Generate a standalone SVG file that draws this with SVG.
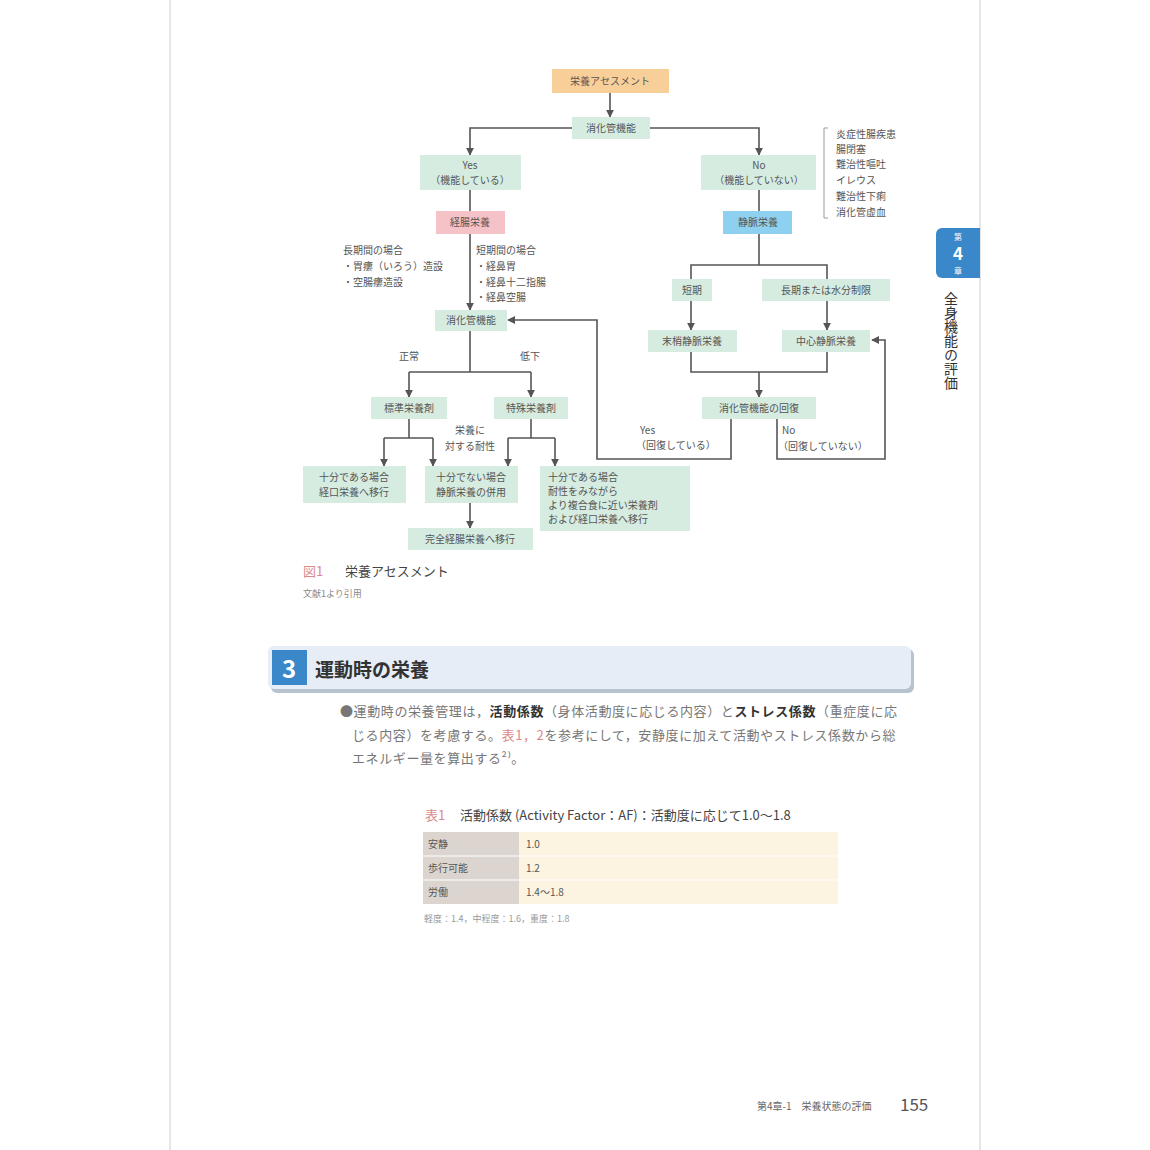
<svg xmlns="http://www.w3.org/2000/svg" width="1150" height="1150" viewBox="0 0 1150 1150">
<defs>
<style>
text{font-family:"Noto Sans CJK JP","Noto Sans",sans-serif;fill:#555;font-size:10px}
.c{text-anchor:middle}
.g{fill:#d6ece1}
.ln{fill:none;stroke:#555;stroke-width:1.6}
.body{font-family:"Noto Sans CJK JP",serif;font-size:13px;letter-spacing:0.6px;fill:#777}
</style>
<marker id="a" viewBox="0 0 10 10" refX="9" refY="5" markerWidth="5" markerHeight="5" orient="auto"><path d="M0,0L10,5L0,10z" fill="#555"/></marker>
</defs>
<rect width="1150" height="1150" fill="#fff"/>
<line x1="170" y1="0" x2="170" y2="1150" stroke="#ccc"/>
<line x1="980" y1="0" x2="980" y2="1150" stroke="#ccc"/>

<g id="connectors" class="ln" marker-end="url(#a)">
<path d="M610,93V117"/>
<path d="M572,128H470V155"/>
<path d="M650,128H759V155"/>
<path d="M470,190V211" marker-end="none"/>
<path d="M470,234V310"/>
<path d="M759,190V211" marker-end="none"/>
<path d="M759,234V265" marker-end="none"/>
<path d="M691,279V265H827V279" marker-end="none"/>
<path d="M691,301V330"/>
<path d="M827,301V330"/>
<path d="M691,352V372H827V352" marker-end="none"/>
<path d="M759,372V397"/>
<path d="M731,419V459H597V320H508"/>
<path d="M777,419V459H885V340H872"/>
<path d="M470,331V372" marker-end="none"/>
<path d="M409,372H531" marker-end="none"/>
<path d="M409,372V397"/>
<path d="M531,372V397"/>
<path d="M409,419V438" marker-end="none"/>
<path d="M384,438H433" marker-end="none"/>
<path d="M384,438V466"/>
<path d="M433,438V466"/>
<path d="M531,419V438" marker-end="none"/>
<path d="M508,438H555" marker-end="none"/>
<path d="M508,438V466"/>
<path d="M555,438V466"/>
<path d="M470,503V528"/>
<path d="M828,128H824V218H828" marker-end="none" stroke="#999" stroke-width="1"/>
</g>

<g id="n1"><rect x="552" y="69" width="117" height="24" fill="#f8cf98"/><text x="610" y="85" class="c">栄養アセスメント</text></g>
<g id="n2"><rect x="572" y="117" width="78" height="22" class="g"/><text x="611" y="132" class="c">消化管機能</text></g>
<g id="n3"><rect x="420" y="155" width="101" height="35" class="g"/><text x="470" y="169" class="c">Yes</text><text x="470" y="184" class="c">（機能している）</text></g>
<g id="n4"><rect x="701" y="155" width="115" height="35" class="g"/><text x="759" y="169" class="c">No</text><text x="759" y="184" class="c">（機能していない）</text></g>
<g id="n5"><rect x="436" y="211" width="69" height="23" fill="#f5c2c7"/><text x="470" y="226" class="c">経腸栄養</text></g>
<g id="n6"><rect x="723" y="211" width="69" height="23" fill="#8ed0ef"/><text x="758" y="226" class="c">静脈栄養</text></g>
<g id="list"><text x="836" y="138">炎症性腸疾患</text><text x="836" y="153">腸閉塞</text><text x="836" y="168">難治性嘔吐</text><text x="836" y="184">イレウス</text><text x="836" y="200">難治性下痢</text><text x="836" y="216">消化管虚血</text></g>
<g id="long"><text x="343" y="254">長期間の場合</text><text x="343" y="270">・胃瘻（いろう）造設</text><text x="343" y="286">・空腸瘻造設</text></g>
<g id="short"><text x="476" y="254">短期間の場合</text><text x="476" y="270">・経鼻胃</text><text x="476" y="286">・経鼻十二指腸</text><text x="476" y="301">・経鼻空腸</text></g>
<g id="n7"><rect x="435" y="310" width="72" height="21" class="g"/><text x="471" y="324" class="c">消化管機能</text></g>
<text x="409" y="360" class="c">正常</text><text x="530" y="360" class="c">低下</text>
<g id="n8"><rect x="371" y="397" width="76" height="22" class="g"/><text x="409" y="412" class="c">標準栄養剤</text></g>
<g id="n9"><rect x="494" y="397" width="74" height="22" class="g"/><text x="531" y="412" class="c">特殊栄養剤</text></g>
<text x="470" y="434" class="c">栄養に</text><text x="470" y="450" class="c">対する耐性</text>
<g id="n10"><rect x="303" y="466" width="103" height="37" class="g"/><text x="354" y="481" class="c">十分である場合</text><text x="354" y="496" class="c">経口栄養へ移行</text></g>
<g id="n11"><rect x="425" y="466" width="93" height="37" class="g"/><text x="471" y="481" class="c">十分でない場合</text><text x="471" y="496" class="c">静脈栄養の併用</text></g>
<g id="n12"><rect x="540" y="466" width="150" height="65" class="g"/><text x="548" y="481">十分である場合</text><text x="548" y="495">耐性をみながら</text><text x="548" y="509">より複合食に近い栄養剤</text><text x="548" y="523">および経口栄養へ移行</text></g>
<g id="n13"><rect x="408" y="528" width="125" height="22" class="g"/><text x="470" y="543" class="c">完全経腸栄養へ移行</text></g>
<g id="n14"><rect x="672" y="279" width="40" height="22" class="g"/><text x="692" y="294" class="c">短期</text></g>
<g id="n15"><rect x="762" y="279" width="128" height="22" class="g"/><text x="826" y="294" class="c">長期または水分制限</text></g>
<g id="n16"><rect x="648" y="330" width="89" height="22" class="g"/><text x="692" y="345" class="c">末梢静脈栄養</text></g>
<g id="n17"><rect x="782" y="330" width="88" height="22" class="g"/><text x="826" y="345" class="c">中心静脈栄養</text></g>
<g id="n18"><rect x="702" y="397" width="114" height="22" class="g"/><text x="759" y="412" class="c">消化管機能の回復</text></g>
<text x="640" y="434">Yes</text><text x="636" y="449">（回復している）</text>
<text x="782" y="434">No</text><text x="778" y="450">（回復していない）</text>

<text x="303" y="576" style="font-size:13px;fill:#d98a8a">図1</text><text x="345" y="576" style="font-size:13px;fill:#444">栄養アセスメント</text>
<text x="303" y="597" style="font-size:9px;fill:#888">文献1より引用</text>

<g id="section">
<rect x="271" y="649" width="643" height="44" rx="6" fill="#b8c3d0"/>
<rect x="268" y="646" width="643" height="43" rx="6" fill="#e6edf7"/>
<rect x="272" y="650" width="35" height="35" fill="#3a88c9"/>
<text x="289" y="678" class="c" style="font-size:24px;font-weight:bold;fill:#fff">3</text>
<text x="315" y="677" style="font-size:19px;font-weight:bold;fill:#333">運動時の栄養</text>
</g>
<text x="340" y="716" class="body">●運動時の栄養管理は，<tspan style="font-weight:bold;fill:#333">活動係数</tspan>（身体活動度に応じる内容）と<tspan style="font-weight:bold;fill:#333">ストレス係数</tspan>（重症度に応</text>
<text x="352" y="740" class="body">じる内容）を考慮する。<tspan fill="#d98a8a">表1，2</tspan>を参考にして，安静度に加えて活動やストレス係数から総</text>
<text x="352" y="763" class="body">エネルギー量を算出する²⁾。</text>

<g id="table">
<text x="425" y="820" style="font-size:13px;fill:#d98a8a">表1</text>
<text x="460" y="820" style="font-size:13px;fill:#444">活動係数 (Activity Factor：AF)：活動度に応じて1.0～1.8</text>
<rect x="423" y="832" width="96" height="72" fill="#dcd5cf"/>
<rect x="519" y="832" width="319" height="72" fill="#fdf3e1"/>
<line x1="423" y1="856" x2="838" y2="856" stroke="#fff"/>
<line x1="423" y1="880" x2="838" y2="880" stroke="#fff"/>
<text x="428" y="848">安静</text><text x="526" y="848">1.0</text>
<text x="428" y="872">歩行可能</text><text x="526" y="872">1.2</text>
<text x="428" y="896">労働</text><text x="526" y="896">1.4～1.8</text>
<text x="424" y="922" style="font-size:9px;fill:#999">軽度：1.4，中程度：1.6，重度：1.8</text>
</g>

<text x="757" y="1110" style="font-size:10px;fill:#666">第4章-1　栄養状態の評価</text>
<text x="900" y="1111" style="font-size:17px;fill:#555">155</text>

<g id="tab">
<path d="M980,228H942a6,6 0 0 0 -6,6V272a6,6 0 0 0 6,6H980z" fill="#3a88c9"/>
<text x="958" y="240" class="c" style="font-size:8px;fill:#fff">第</text>
<text x="958" y="260" class="c" style="font-size:17px;font-weight:bold;fill:#fff">4</text>
<text x="958" y="274" class="c" style="font-size:8px;fill:#fff">章</text>
<text x="951" y="292" style="font-size:14px;fill:#333;writing-mode:tb;glyph-orientation-vertical:0">全身機能の評価</text>
</g>
</svg>
